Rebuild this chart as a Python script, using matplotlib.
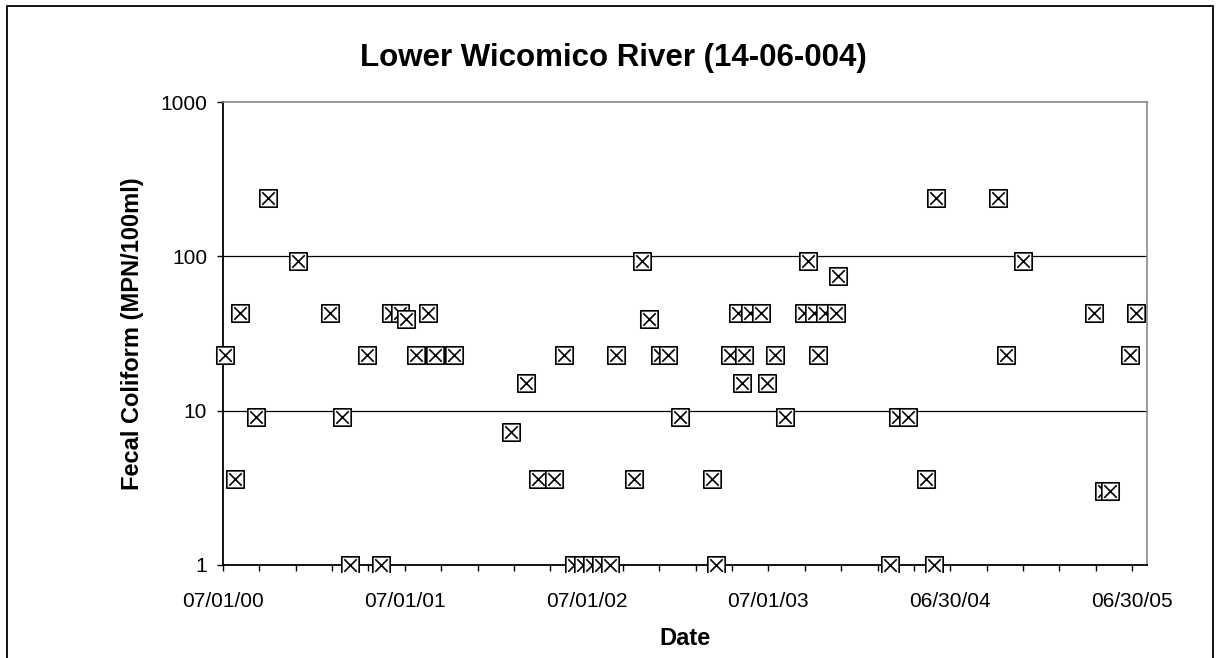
import numpy as np
import pandas as pd
import matplotlib
matplotlib.use('Agg')
import matplotlib.pyplot as plt
import matplotlib.dates as mdates
from matplotlib.patches import Rectangle
from matplotlib.path import Path
from matplotlib.transforms import Bbox

plt.rcParams['font.family'] = ['Liberation Sans', 'DejaVu Sans']

# Sampling dates and fecal coliform results.
sample_dates = [
    '2000-07-06', '2000-07-26', '2000-08-04', '2000-09-05', '2000-09-29', '2000-11-28',
    '2001-01-31', '2001-02-24', '2001-03-12', '2001-04-17', '2001-05-15', '2001-06-04',
    '2001-06-21', '2001-07-03', '2001-07-23', '2001-08-16', '2001-08-31', '2001-10-07',
    '2002-01-31', '2002-03-01', '2002-03-26', '2002-04-26', '2002-05-16', '2002-06-05',
    '2002-06-23', '2002-07-11', '2002-07-29', '2002-08-16', '2002-08-28', '2002-10-04',
    '2002-10-21', '2002-11-03', '2002-11-25', '2002-12-12', '2003-01-04', '2003-03-09',
    '2003-03-18', '2003-04-14', '2003-04-30', '2003-05-08', '2003-05-13', '2003-05-25',
    '2003-06-17', '2003-06-29', '2003-07-15', '2003-08-04', '2003-09-10', '2003-09-18',
    '2003-10-01', '2003-10-08', '2003-10-23', '2003-11-14', '2003-11-17', '2004-03-01',
    '2004-03-17', '2004-04-07', '2004-05-12', '2004-05-29', '2004-06-01', '2004-10-03',
    '2004-10-19', '2004-11-24', '2005-04-14', '2005-05-04', '2005-05-16', '2005-06-26',
    '2005-07-08',
]
fecal_coliform = [
    23, 3.6, 43, 9.1, 240, 93,
    43, 9.1, 1, 23, 1, 43,
    43, 39, 23, 43, 23, 23,
    7.3, 15, 3.6, 3.6, 23, 1,
    1, 1, 1, 1, 23, 3.6,
    93, 39, 23, 23, 9.1, 3.6,
    1, 23, 43, 15, 23, 43,
    43, 15, 23, 9.1, 43, 93,
    43, 23, 43, 43, 75, 1,
    9.1, 9.1, 3.6, 1, 240, 240,
    23, 93, 43, 3, 3, 23,
    43,
]

y_ticks = [1, 10, 100, 1000]
axis_start = pd.Timestamp('2000-07-01')
axis_days = 1855
major_step = 365
minor_step = 73

dates = pd.to_datetime(sample_dates)

fig = plt.figure(figsize=(12.17, 6.58), dpi=100)
ax = fig.add_axes([223 / 1217, 93 / 658, 924 / 1217, 463 / 658])

# Outer chart frame.
fig.patches.append(Rectangle((7 / 1217, -0.05), 1206 / 1217, 0.05 + 652 / 658,
                             transform=fig.transFigure, fill=False,
                             edgecolor='black', linewidth=1.3))

# Square marker with an X inside.
s, k = 0.5, 0.36
box_x = Path(
    [(-s, -s), (s, -s), (s, s), (-s, s), (-s, -s),
     (-k, -k), (k, k), (-k, k), (k, -k)],
    [Path.MOVETO, Path.LINETO, Path.LINETO, Path.LINETO, Path.CLOSEPOLY,
     Path.MOVETO, Path.LINETO, Path.MOVETO, Path.LINETO])

for v in y_ticks[1:-1]:
    ax.axhline(v, color='black', linewidth=0.9, zorder=1)

points, = ax.plot(dates, fecal_coliform, linestyle='none', marker=box_x,
                  markersize=12.5, markerfacecolor='white',
                  markeredgecolor='black', markeredgewidth=1.2, zorder=3)

ax.set_yscale('log')
ax.set_ylim(y_ticks[0], y_ticks[-1])
ax.set_yticks(y_ticks)
ax.set_yticklabels([str(v) for v in y_ticks])
ax.yaxis.set_minor_locator(matplotlib.ticker.NullLocator())

ax.set_xlim(axis_start, axis_start + pd.Timedelta(days=axis_days))
ax.set_xticks([axis_start + pd.Timedelta(days=d) for d in range(0, axis_days, major_step)])
ax.set_xticks([axis_start + pd.Timedelta(days=d) for d in range(0, axis_days, minor_step)],
              minor=True)
ax.xaxis.set_major_formatter(mdates.DateFormatter('%m/%d/%y'))

ax.tick_params(axis='both', which='both', direction='out', length=4.5, width=1,
               color='black', labelsize=15, labelcolor='black')
ax.tick_params(axis='x', pad=15)
ax.tick_params(axis='y', pad=7)

for side in ['left', 'bottom']:
    ax.spines[side].set_linewidth(1.3)
    ax.spines[side].set_color('black')
for side in ['top', 'right']:
    ax.spines[side].set_linewidth(1.1)
    ax.spines[side].set_color('#808080')

# Let markers on the bottom value spill a little past the axis line.
bb = ax.bbox
points.set_clip_path(None)
points.set_clip_box(Bbox.from_extents(bb.x0 - 12, bb.y0 - 6.5, bb.x1, bb.y1 + 12))

fig.text(613 / 1217, 1 - 66 / 658, 'Lower Wicomico River (14-06-004)',
         ha='center', va='baseline', fontsize=22.5, fontweight='bold')
ax.set_xlabel('Date', fontsize=17, fontweight='bold')
ax.xaxis.set_label_coords(0.5, -0.134)
ax.set_ylabel('Fecal Coliform (MPN/100ml)', fontsize=17, fontweight='bold')
ax.yaxis.set_label_coords(-0.0855, 0.5)

fig.savefig('out.png', dpi=100)
